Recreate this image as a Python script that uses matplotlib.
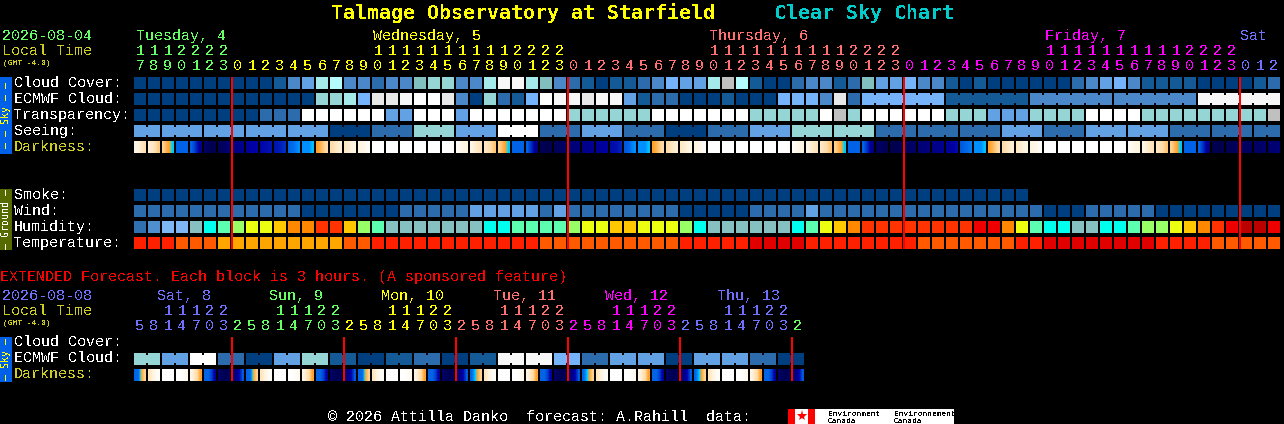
import matplotlib
matplotlib.use("Agg")
import matplotlib.pyplot as plt
from matplotlib.colors import LinearSegmentedColormap
from matplotlib.patches import Rectangle
import numpy as np

# Sky colours, index is the level used in the rows below
SKY = ["#003F7F", "#135A97", "#2C6BAC", "#4A88CA", "#62A2E4", "#75B4FA", "#82BFBF",
       "#95D5D5", "#A5EAEA", "#B5FBFD", "#E8E8E8", "#F7F7F7", "#FFFFFF", "#C0C0C0"]
HUMID = ["#3070B0", "#4F8FD0", "#7FB7F5", "#86C0C0", "#00FFEE", "#5CFFB0", "#99FF66",
         "#ECFF10", "#FFC800", "#FF8800", "#FF3300", "#EE0000", "#BB0000"]
TEMP = ["#E00000", "#FF2000", "#FF5A00", "#FFA500"]
DARK_STOPS = ["#FFFFFF", "#FFF4E0", "#FFDCA8", "#FFA028", "#00D8F8", "#0090FF", "#0062E4",
              "#0030C4", "#0000A4", "#000068", "#000040"]

cloud = [0, 0, 0, 0, 0, 0, 0, 0, 0, 0, 1, 3, 4, 8, 9, 3, 3, 2, 3, 3, 6,
         7, 7, 3, 3, 8, 11, 11, 8, 6, 3, 2, 1, 0, 1, 1, 2, 3, 5, 4, 4, 8, 13, 9, 1, 0, 0, 2, 3, 3, 1, 2,
         6, 4, 4, 5, 3, 3, 1, 0, 1, 0, 0, 0, 0, 0, 0, 2, 3, 4, 5, 3, 1, 1, 1, 1, 0, 0, 0, 0, 1, 2]
ecmwf = [0, 0, 0, 0, 0, 0, 0, 0, 0, 0, 0, 0, 0, 7, 7, 8, 5, 10, 10, 11, 12,
         12, 10, 3, 0, 7, 2, 1, 5, 12, 11, 11, 10, 11, 11, 4, 1, 2, 2, 0, 0, 0, 1, 0, 0, 0, 5, 5, 5, 3, 10, 2,
         5, 5, 5, 5, 5, 5, 1, 1, 1, 1, 1, 1, 3, 3, 3, 3, 3, 3, 3, 3, 3, 3, 3, 3, 11, 11, 11, 11, 11, 11]
transparency = [0, 0, 0, 0, 0, 0, 0, 0, 0, 2, 2, 2, 12, 12, 12, 12, 12, 12, 4, 4, 12,
                12, 12, 4, 12, 12, 12, 12, 12, 12, 12, 7, 7, 7, 7, 7, 7, 12, 12, 12, 12, 12, 12, 12, 7, 7, 7, 7, 7, 12, 13, 7,
                12, 12, 12, 12, 12, 12, 7, 7, 7, 4, 4, 4, 7, 7, 7, 7, 12, 12, 12, 12, 7, 7, 7, 7, 7, 7, 7, 7, 7, 13]
seeing = [4, 4, 4, 4, 4, 4, 4, 4, 4, 4, 4, 4, 4, 4, 0, 0, 0, 2, 2, 2, 7,
          7, 7, 4, 4, 4, 12, 12, 12, 2, 2, 2, 4, 4, 4, 2, 2, 2, 0, 0, 0, 2, 2, 2, 4, 4, 4, 7, 7, 7, 7, 7,
          7, 2, 2, 2, 2, 2, 2, 2, 2, 2, 4, 4, 4, 2, 2, 2, 4, 4, 4, 4, 4, 4, 2, 2, 2, 2, 2, 2, 2, 2]
smoke = [0] * 64
wind = [2, 2, 2, 2, 2, 2, 2, 2, 2, 2, 2, 2, 0, 0, 0, 0, 0, 0, 0, 2, 2,
        2, 2, 2, 4, 4, 4, 4, 4, 2, 4, 2, 2, 2, 2, 2, 2, 2, 2, 0, 0, 0, 0, 0, 2, 2, 2, 2, 4, 2, 2, 2,
        2, 2, 2, 2, 2, 2, 2, 2, 2, 2, 2, 2, 2, 0, 0, 0, 2, 2, 2, 2, 2, 0, 0, 0, 0, 0, 0, 0, 0, 0]
humidity = [0, 1, 2, 2, 3, 4, 5, 6, 7, 7, 8, 9, 9, 10, 10, 8, 6, 5, 3, 3, 3,
            3, 3, 3, 3, 4, 4, 5, 5, 5, 5, 6, 7, 7, 8, 8, 7, 7, 7, 6, 4, 3, 3, 3, 3, 3, 3, 4, 5, 7, 8, 9,
            10, 10, 10, 10, 10, 10, 10, 10, 11, 11, 9, 7, 5, 4, 4, 3, 3, 4, 4, 5, 6, 6, 7, 8, 9, 10, 11, 12, 12, 11]
temperature = [1, 1, 1, 2, 2, 2, 3, 3, 3, 3, 3, 3, 3, 3, 3, 2, 2, 1, 1, 1, 1,
               1, 1, 1, 1, 1, 1, 1, 1, 2, 2, 2, 2, 2, 2, 2, 2, 2, 2, 1, 1, 1, 1, 1, 0, 0, 0, 0, 1, 1, 1, 1,
               1, 1, 1, 1, 2, 2, 2, 2, 2, 2, 2, 1, 1, 0, 0, 0, 0, 0, 0, 0, 0, 1, 1, 1, 1, 2, 2, 2, 2, 2]
# Darkness, four readings across each one hour block (0 sun up, 10 darkest)
darkness = [
    (1, 1, 1.5, 1.8), (1.2, 1.5, 1.9, 2.3), (2.2, 2.7, 3, 4.2), (6, 6, 6, 6), (6, 6.6, 7.6, 8.4), (9, 9.3, 9.5, 9.5),
    (9.3, 9.2, 9, 8.8), (8.6, 8.5, 8.4, 8.3), (8.2, 8, 8, 7.9), (7.9, 7.8, 7.7, 7.6), (7.6, 7.5, 7.3, 7), (6, 5.8, 5.5, 5),
    (5, 5, 5, 4.3), (3, 2.7, 2.3, 2), (2, 1.7, 1.4, 1.2), (1.5, 1.3, 1, 0.9), (1, 0.8, 0.5, 0.3), (0, 0, 0, 0),
    (0, 0, 0, 0), (0, 0, 0, 0), (0, 0, 0, 0), (0, 0, 0, 0), (0, 0, 0, 0.2), (0.3, 0.6, 0.9, 1),
    (0.9, 1.2, 1.5, 1.7), (1.5, 1.8, 2.1, 2.4), (2.2, 2.6, 3, 4.2), (6, 6, 6, 6), (6, 6.8, 7.8, 8.6), (9.4, 9.6, 9.6, 9.5),
    (9.3, 9.2, 9.2, 9.1), (8.9, 8.8, 8.7, 8.6), (8.5, 8.4, 8.3, 8.3), (8.2, 8.1, 8.1, 8), (7.8, 7.7, 7.6, 7.3), (6.2, 6, 5.5, 5),
    (5, 5, 5, 4.3), (3, 2.7, 2.3, 2), (2, 1.7, 1.4, 1.2), (1.5, 1.3, 1, 0.9), (1, 0.8, 0.5, 0.3), (0, 0, 0, 0),
    (0, 0, 0, 0), (0, 0, 0, 0), (0, 0, 0, 0), (0, 0, 0, 0), (0, 0, 0, 0.2), (0.3, 0.6, 0.9, 1),
    (0.9, 1.2, 1.5, 1.7), (1.5, 1.8, 2.1, 2.4), (2.2, 2.6, 3, 4.2), (6, 6, 6, 6), (6, 6.8, 7.8, 8.6), (9.2, 9.2, 9.3, 9.4),
    (9.6, 9.6, 9.5, 9.4), (9.3, 9.2, 9.1, 9), (8.8, 8.7, 8.7, 8.6), (8.5, 8.4, 8.4, 8.3), (8.2, 8.1, 8, 7.8), (6.2, 6, 5.8, 5.5),
    (5, 5, 5, 4.3), (3, 2.7, 2.3, 2), (2, 1.7, 1.4, 1.2), (1.5, 1.3, 1, 0.9), (1, 0.8, 0.5, 0.3), (0, 0, 0, 0),
    (0, 0, 0, 0), (0, 0, 0, 0), (0, 0, 0, 0), (0, 0, 0, 0), (0, 0, 0, 0.2), (0.3, 0.6, 0.9, 1),
    (0.9, 1.2, 1.5, 1.7), (1.5, 1.8, 2.1, 2.4), (2.2, 2.6, 3, 4.2), (6, 6, 6, 6), (6, 6.8, 7.8, 8.6), (9.6, 9.6, 9.6, 9.5),
    (9.5, 9.4, 9.4, 9.3), (9.3, 9.2, 9.2, 9.1), (9.1, 9, 9, 8.9), (8.9, 8.8, 8.8, 8.7),
]

ext_ecmwf = [7, 7, 4, 4, 12, 12, 2, 2, 0, 0, 4, 4, 7, 7, 1, 1, 0, 0, 1, 1, 2, 2, 0, 0,
             1, 1, 11, 11, 11, 11, 5, 5, 2, 2, 4, 4, 4, 4, 0, 0, 4, 4, 4, 4, 2, 2, 0, 0]
ext_darkness = [
    (6, 5.8, 3, 2.2), (1.6, 1.1, 0.6, 0.2), (0, 0, 0, 0), (0, 0, 0.2, 0.6), (1, 1.5, 2.1, 3), (6, 6, 6.6, 8), (9, 9.4, 9.5, 9.3), (8.8, 8.4, 7.8, 6.2),
    (6, 5.8, 3, 2.2), (1.6, 1.1, 0.6, 0.2), (0, 0, 0, 0), (0, 0, 0.2, 0.6), (1, 1.5, 2.1, 3), (6, 6, 6.6, 8), (9, 9.4, 9.5, 9.3), (8.8, 8.4, 7.8, 6.2),
    (6, 5.8, 3, 2.2), (1.6, 1.1, 0.6, 0.2), (0, 0, 0, 0), (0, 0, 0.2, 0.6), (1, 1.5, 2.1, 3), (6, 6, 6.6, 8), (9, 9.4, 9.5, 9.3), (8.8, 8.4, 7.8, 6.2),
    (6, 4.6, 3, 2.2), (1.6, 1.1, 0.6, 0.2), (0, 0, 0, 0), (0, 0, 0.2, 0.6), (1, 1.5, 2.1, 3), (6, 6, 6.6, 8), (9, 9.4, 9.5, 9.3), (8.8, 8.4, 7.8, 6.2),
    (6, 4.6, 3, 2.2), (1.6, 1.1, 0.6, 0.2), (0, 0, 0, 0), (0, 0, 0.2, 0.6), (1, 1.5, 2.1, 3), (6, 6, 6.6, 8), (9, 9.4, 9.5, 9.3), (8.8, 8.4, 7.8, 6.2),
    (6, 4.6, 3, 2.2), (1.6, 1.1, 0.6, 0.2), (0, 0, 0, 0), (0, 0, 0.2, 0.6), (1, 1.5, 2.1, 3), (6, 6, 6.6, 8), (9, 9.4, 9.5, 9.3), (8.8, 8.4, 7.8, 6.2),
]

day_labels = ["Tuesday, 4", "Wednesday, 5", "Thursday, 6", "Friday, 7", "Sat"]
ext_day_labels = ["Sat, 8", "Sun, 9", "Mon, 10", "Tue, 11", "Wed, 12", "Thu, 13"]
row_labels = ["Cloud Cover:", "ECMWF Cloud:", "Transparency:", "Seeing:", "Darkness:"]
ground_labels = ["Smoke:", "Wind:", "Humidity:", "Temperature:"]
ext_labels = ["Cloud Cover:", "ECMWF Cloud:", "Darkness:"]

GREEN, YELLOW, SALMON, MAGENTA, VIOLET = "#66FF66", "#FFFF00", "#FF7070", "#FF00FF", "#7070FF"
OLIVE_TEXT = "#CCCC22"
X0, PITCH, BLOCK = 134, 14, 12
MONO = "Liberation Mono"

plt.rcParams["text.antialiased"] = False
fig = plt.figure(figsize=(12.84, 4.24), dpi=100, facecolor="black")
ax = fig.add_axes([0, 0, 1, 1], facecolor="black")
ax.set_axis_off()
dark_cmap = LinearSegmentedColormap.from_list("dark", DARK_STOPS)


def label(x, y, s, color="white", size=10.8, **kw):
    # y is the middle of the capitals, so every line sits on the same baseline
    ax.text(x, y + size * 0.46, s, color=color, fontsize=size, family=MONO, va="baseline", **kw)


def side(y, s, color):
    ax.text(6, y, s, color=color, fontsize=7.2, family="DejaVu Sans Mono", rotation=90,
            ha="center", va="center", zorder=4)


def rect(x, y, w, h, color, zorder=2):
    ax.add_patch(Rectangle((x, y), w, h, facecolor=color, edgecolor="none", antialiased=False, zorder=zorder))


def block_row(values, palette, y, runs=None):
    for k, v in enumerate(values):
        rect(X0 + PITCH * k, y, BLOCK, BLOCK, palette[v])
    if runs is None:
        return
    # blocks in one forecast period are joined by a short bridge
    k = 0
    for n in runs:
        for j in range(k, k + n - 1):
            rect(X0 + PITCH * j + BLOCK, y + 2, PITCH - BLOCK, BLOCK - 4, palette[values[j]])
        k += n


def dark_row(values, y):
    for k, v in enumerate(values):
        x = X0 + PITCH * k
        ax.imshow(np.array([v]), cmap=dark_cmap, vmin=0, vmax=10, aspect="auto", interpolation="bilinear",
                  extent=(x, x + BLOCK, y + BLOCK, y), zorder=2)


# title
ax.text(331, 19, "Talmage Observatory at Starfield", color=YELLOW, fontsize=14.35,
        family="DejaVu Sans Mono", weight="bold", va="baseline")
ax.text(774, 19, "Clear Sky Chart", color="#00CCCC", fontsize=14.35,
        family="DejaVu Sans Mono", weight="bold", va="baseline")

# main chart header
label(2, 35, "2026-08-04", color=GREEN)
label(2, 50, "Local Time", color=OLIVE_TEXT)
label(3, 62, "(GMT -4.0)", color=OLIVE_TEXT, size=5.7)
day_colors = [GREEN, YELLOW, SALMON, MAGENTA, VIOLET]
for text, x, c in zip(day_labels, [136, 373, 709, 1045, 1240], day_colors):
    label(x, 35, text, color=c)
for k in range(len(cloud)):
    hour = (17 + k) % 24
    c = day_colors[(17 + k) // 24]
    cx = X0 + PITCH * k + 6
    if hour >= 10:
        label(cx, 50, str(hour // 10), color=c, ha="center")
    label(cx, 65, str(hour % 10), color=c, ha="center")

# main rows
block_row(cloud, SKY, 77)
block_row(ecmwf, SKY, 93, runs=[1] * 52 + [6] * 5)
block_row(transparency, SKY, 109)
block_row(seeing, SKY, 125, runs=[2] + [3] * 26 + [2])
dark_row(darkness, 141)
block_row(smoke, SKY, 189)
block_row(wind, SKY, 205)
block_row(humidity, HUMID, 221)
block_row(temperature, TEMP, 237)

for i, s in enumerate(row_labels):
    label(14, 82 + 16 * i, s, color=OLIVE_TEXT if s == "Darkness:" else "white")
for i, s in enumerate(ground_labels):
    label(14, 194 + 16 * i, s)

rect(0, 77, 12, 77, "#0060E8")
side(115, "\u2013 \u2013 Sky \u2013 \u2013", YELLOW)
rect(0, 189, 12, 61, "#556B00")
side(219, "\u2013 Ground \u2013", "white")

for k in [7, 31, 55, 79]:
    rect(X0 + PITCH * k - 1, 77, 2, 172, "#FF0000", zorder=3)

# extended forecast
label(0, 276, "EXTENDED Forecast. Each block is 3 hours. (A sponsored feature)", color="#FF0000")
label(2, 295, "2026-08-08", color=VIOLET)
label(2, 310, "Local Time", color=OLIVE_TEXT)
label(3, 322, "(GMT -4.0)", color=OLIVE_TEXT, size=5.7)
ext_colors = [VIOLET, GREEN, YELLOW, SALMON, MAGENTA, VIOLET, GREEN]
for i, s in enumerate(ext_day_labels):
    label(157 + 112 * i, 295, s, color=ext_colors[i])
for k in range(len(ext_ecmwf)):
    hour = (5 + 3 * k) % 24
    c = ext_colors[(k + 1) // 8]
    cx = X0 + PITCH * k + 6
    if hour >= 10:
        label(cx, 310, str(hour // 10), color=c, ha="center")
    label(cx, 325, str(hour % 10), color=c, ha="center")

block_row(ext_ecmwf, SKY, 353, runs=[2] * 24)
dark_row(ext_darkness, 369)
for i, s in enumerate(ext_labels):
    label(14, 341 + 16 * i, s, color=OLIVE_TEXT if s == "Darkness:" else "white")
rect(0, 337, 12, 45, "#0060E8")
side(359, "\u2013 Sky \u2013", YELLOW)
for k in range(7, 48, 8):
    rect(X0 + PITCH * k - 1, 337, 2, 44, "#FF0000", zorder=3)

# footer
label(328, 416, "\u00a9 2026 Attilla Danko  forecast: A.Rahill  data:")
rect(788, 409, 166, 15, "white")
rect(788, 409, 7, 15, "#FF0000", zorder=3)
rect(808, 409, 7, 15, "#FF0000", zorder=3)
ax.plot([801.5], [416], marker="*", markersize=8, color="#FF0000", markeredgewidth=0, zorder=3)
for x, s in [(828, "Environment"), (894, "Environnement")]:
    label(x, 413, s, color="black", size=5.7, zorder=4)
    label(x, 420, "Canada", color="black", size=5.7, zorder=4)

ax.set_xlim(0, 1284)
ax.set_ylim(424, 0)
fig.savefig("out.png", dpi=100, facecolor="black")
